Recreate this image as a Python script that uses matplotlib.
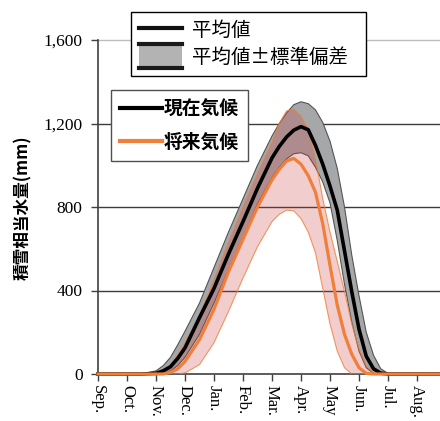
import matplotlib
matplotlib.use("Agg")
import matplotlib.pyplot as plt
from matplotlib.font_manager import FontProperties
from matplotlib.lines import Line2D
from matplotlib.patches import Rectangle, Patch

# ---- data (x = months since Sep 1) ----
months = ["Sep.", "Oct.", "Nov.", "Dec.", "Jan.", "Feb.", "Mar.", "Apr.", "May", "Jun.", "Jul.", "Aug."]
xm = [0, 1.5, 2.0, 2.25, 2.5, 2.75, 3.0, 3.5, 4.0, 4.5, 5.0, 5.5, 6.0, 6.25, 6.5, 6.75,
      7.0, 7.25, 7.5, 7.75, 8.0, 8.25, 8.5, 8.75, 9.0, 9.25, 9.5, 9.75, 10.0, 10.25, 12.0]
present_mean = [0, 0, 3, 15, 35, 75, 125, 270, 410, 575, 730, 890, 1035, 1090, 1135, 1168,
                1185, 1170, 1095, 1005, 900, 785, 590, 395, 215, 85, 25, 4, 0, 0, 0]
present_upper = [0, 0, 15, 40, 80, 140, 205, 340, 510, 680, 840, 1000, 1140, 1200, 1250, 1290,
                 1304, 1295, 1265, 1205, 1115, 985, 800, 570, 375, 200, 90, 25, 3, 0, 0]
present_lower = [0, 0, 0, 5, 15, 40, 80, 190, 340, 500, 650, 815, 940, 990, 1030, 1055,
                 1060, 1045, 990, 920, 820, 640, 430, 250, 110, 30, 3, 0, 0, 0, 0]
future_mean = [0, 0, 0, 0, 8, 25, 60, 165, 310, 490, 645, 800, 930, 980, 1020, 1033,
               1005, 950, 870, 720, 520, 330, 190, 95, 30, 3, 0, 0, 0, 0, 0]
future_upper = [0, 0, 0, 10, 40, 90, 150, 280, 450, 630, 800, 960, 1110, 1200, 1260, 1268,
                1235, 1170, 1030, 840, 680, 540, 395, 240, 120, 40, 5, 0, 0, 0, 0]
future_lower = [0, 0, 0, 0, 0, 0, 5, 45, 150, 300, 460, 610, 730, 765, 785, 782,
                745, 680, 580, 410, 240, 110, 30, 0, 0, 0, 0, 0, 0, 0, 0]
yticks = [0, 400, 800, 1200, 1600]
ytick_labels = ["0", "400", "800", "1,200", "1,600"]

W, H = 440, 421
fig = plt.figure(figsize=(W / 100, H / 100), dpi=100)
ax = fig.add_axes([98 / W, (H - 374) / H, (446 - 98) / W, (374 - 40) / H])
ax.set_xlim(0, 12)
ax.set_ylim(0, 1600)

ORANGE = "#ef7f3a"
# grid lines
for v in yticks[1:]:
    ax.axhline(v, color="#bdbdbd" if v == 1600 else "#3c3c3c", lw=1.0, zorder=1, clip_on=False)

# present band
ax.fill_between(xm, present_lower, present_upper, facecolor="#a5a7a9", edgecolor="none", zorder=2)
ax.plot(xm, present_upper, color="#555555", lw=0.8, zorder=2)
ax.plot(xm, present_lower, color="#555555", lw=0.8, zorder=2)
# future band
ax.fill_between(xm, future_lower, future_upper, facecolor=(0.80, 0.22, 0.22), alpha=0.25,
                edgecolor="none", zorder=3)
ax.plot(xm, future_upper, color=ORANGE, lw=0.8, alpha=0.8, zorder=3)
ax.plot(xm, future_lower, color=ORANGE, lw=0.8, alpha=0.8, zorder=3)
# means
ax.plot(xm, present_mean, color="black", lw=2.6, zorder=4, clip_on=False)
ax.plot(xm, future_mean, color=ORANGE, lw=2.3, zorder=5, clip_on=False)

for s in ["top", "right"]:
    ax.spines[s].set_visible(False)
for s in ["left", "bottom"]:
    ax.spines[s].set_color("#404040")
    ax.spines[s].set_linewidth(1.2)

serif = FontProperties(family="Liberation Serif", size=12.5)
ax.set_yticks(yticks)
ax.set_yticklabels(ytick_labels, fontproperties=serif)
ax.set_xticks(range(len(months)))
ax.set_xticklabels(months, fontproperties=FontProperties(family="Liberation Serif", size=12),
                   rotation=-90, va="top", ha="center")
ax.tick_params(axis="both", direction="out", length=5, width=1.0, color="#404040", pad=3)
ax.tick_params(axis="y", pad=6)

fig.text(23 / W, 1 - 208 / H, "積雪相当水量(mm)", rotation=90, ha="center", va="center",
         fontproperties=FontProperties(family=["Noto Sans CJK JP", "DejaVu Sans"], size=12, weight="bold"))


class BandHandler:
    def legend_artist(self, legend, orig_handle, fontsize, handlebox):
        x0, y0 = -handlebox.xdescent, -handlebox.ydescent
        w, h = handlebox.width, handlebox.height
        tr = handlebox.get_transform()
        rh = 19.5  # points
        yc = y0 + h / 2
        rect = Rectangle((x0, yc - rh / 2), w, rh, facecolor="#b3b3b3", edgecolor="none", transform=tr)
        top = Line2D([x0, x0 + w], [yc + rh / 2 - 1, yc + rh / 2 - 1], color="#1a1a1a", lw=3, transform=tr)
        bot = Line2D([x0, x0 + w], [yc - rh / 2 + 1, yc - rh / 2 + 1], color="#1a1a1a", lw=3, transform=tr)
        handlebox.add_artist(rect)
        handlebox.add_artist(top)
        handlebox.add_artist(bot)
        return rect


band_handle = Patch()
leg1 = fig.legend([Line2D([], [], color="#111111", lw=3), band_handle],
                  ["平均値", "平均値±標準偏差"],
                  handler_map={Patch: BandHandler()},
                  loc="upper left", bbox_to_anchor=(131 / W, 1 - 76 / H, 235 / W, 64 / H),
                  mode="expand", borderaxespad=0,
                  prop=FontProperties(family=["Noto Sans CJK JP", "DejaVu Sans"], size=14),
                  handlelength=2.2, handleheight=1.0, handletextpad=0.5, labelspacing=0.3,
                  borderpad=0.42, frameon=True, fancybox=False, framealpha=1)
leg1.get_frame().set_edgecolor("black")
leg1.get_frame().set_linewidth(1.0)

leg2 = fig.legend([Line2D([], [], color="black", lw=3), Line2D([], [], color=ORANGE, lw=3)],
                  ["現在気候", "将来気候"],
                  loc="upper left", bbox_to_anchor=(111 / W, 1 - 90 / H), borderaxespad=0,
                  prop=FontProperties(family=["Noto Sans CJK JP", "DejaVu Sans"], size=13.5, weight="bold"),
                  handlelength=2.2, handletextpad=0.1, labelspacing=0.75, borderpad=0.5,
                  frameon=True, fancybox=False, framealpha=1)
leg2.get_frame().set_edgecolor("#505050")
leg2.get_frame().set_linewidth(1.0)

fig.savefig("out.png", dpi=100)
